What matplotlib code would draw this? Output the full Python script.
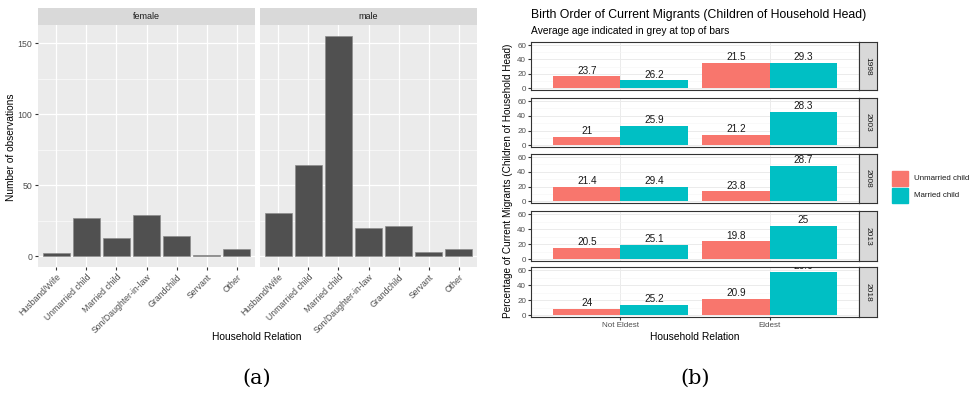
import matplotlib
matplotlib.use("Agg")
import matplotlib.pyplot as plt

plt.rcParams['font.family'] = ['Liberation Sans', 'DejaVu Sans']

W, H = 972, 393

# (a) household relation counts by sex
relations = ['Husband/Wife', 'Unmarried child', 'Married child', 'Son/Daughter-in-law',
             'Grandchild', 'Servant', 'Other']
female_counts = [2, 27, 13, 29, 14, 1, 5]
male_counts = [30, 64, 155, 20, 21, 3, 5]
sexes = ['female', 'male']

# (b) birth order of migrants, percentages and average ages
years = ['1998', '2003', '2008', '2013', '2018']
birth_order = ['Not Eldest', 'Eldest']
unmarried_pct = [[16.6, 35.5], [11.5, 14.6], [19.5, 13.8], [14.8, 23.7], [8.9, 22.2]]
married_pct = [[11.4, 35.5], [26.5, 45.4], [19.5, 48.3], [18.8, 44.3], [14.2, 57.3]]
unmarried_age = [[23.7, 21.5], [21, 21.2], [21.4, 23.8], [20.5, 19.8], [24, 20.9]]
married_age = [[26.2, 29.3], [25.9, 28.3], [29.4, 28.7], [25.1, 25], [25.2, 26.6]]
status = ['Unmarried child', 'Married child']
status_colors = ['#F8766D', '#00BFC4']

fig = plt.figure(figsize=(W / 100, H / 100), dpi=100)
fig.patch.set_facecolor('white')


def box(x0, y0, x1, y1):
    return [x0 / W, 1 - y1 / H, (x1 - x0) / W, (y1 - y0) / H]


def ftext(x, y, s, **kw):
    fig.text(x / W, 1 - y / H, s, **kw)


# ---- panel (a) ----
for i, (sex, counts) in enumerate(zip(sexes, [female_counts, male_counts])):
    x0 = 38 + i * 222
    x1 = x0 + 217
    ax = fig.add_axes(box(x0, 25, x1, 267))
    ax.set_facecolor('#EBEBEB')
    pos = list(range(len(relations)))
    ax.bar(pos, counts, width=0.9, color='#505050', edgecolor='#8c8c8c', linewidth=0.5, zorder=3)
    ax.set_xlim(-0.6, len(relations) - 0.4)
    ax.set_ylim(-7.75, 162.75)
    ax.set_yticks([0, 50, 100, 150])
    ax.set_yticks([25, 75, 125], minor=True)
    ax.set_xticks(pos)
    ax.set_xticklabels(relations, rotation=45, ha='right', rotation_mode='anchor',
                       fontsize=6, color='#4D4D4D')
    ax.grid(which='major', color='white', linewidth=0.9, zorder=0)
    ax.grid(which='minor', axis='y', color='white', linewidth=0.4, zorder=0)
    ax.tick_params(axis='both', which='major', length=2.5, color='#333333',
                   labelsize=6.3, labelcolor='#4D4D4D', pad=1.5)
    ax.tick_params(which='minor', length=0)
    if i > 0:
        ax.tick_params(axis='y', labelleft=False, length=0)
    for s in ax.spines.values():
        s.set_visible(False)
    sax = fig.add_axes(box(x0, 8, x1, 25))
    sax.set_facecolor('#D9D9D9')
    sax.set_xticks([])
    sax.set_yticks([])
    for s in sax.spines.values():
        s.set_visible(False)
    sax.text(0.5, 0.5, sex, ha='center', va='center', fontsize=6.5, color='#1A1A1A',
             transform=sax.transAxes)

ftext(11, 147, 'Number of observations', rotation=90, ha='center', va='center', fontsize=7.3)
ftext(257, 337, 'Household Relation', ha='center', va='center', fontsize=7.4)
ftext(257, 378, '(a)', ha='center', va='center', fontsize=15, family='DejaVu Serif')

# ---- panel (b) ----
rows = [(42, 90), (98, 147), (154, 203), (211, 261), (267, 317)]
bw = 0.45
for r, (y0, y1) in enumerate(rows):
    ax = fig.add_axes(box(531, y0, 859, y1))
    ax.set_facecolor('white')
    xs = [1, 2]
    groups = [(unmarried_pct[r], unmarried_age[r]), (married_pct[r], married_age[r])]
    for k, (pct, age) in enumerate(groups):
        bx = [x + (k - 0.5) * bw for x in xs]
        ax.bar(bx, pct, width=bw, color=status_colors[k], zorder=3)
        for xb, p, a in zip(bx, pct, age):
            ax.text(xb, p + 7.6, '%g' % a, ha='center', va='center', fontsize=7.2,
                    color='#1A1A1A', clip_on=True, zorder=4)
    ax.set_xlim(0.4, 2.6)
    ax.set_ylim(-2.2, 64.2)
    ax.set_yticks([0, 20, 40, 60])
    ax.set_yticks([10, 30, 50], minor=True)
    ax.set_xticks(xs)
    ax.grid(which='major', color='#EBEBEB', linewidth=0.7, zorder=0)
    ax.grid(which='minor', axis='y', color='#F5F5F5', linewidth=0.4, zorder=0)
    ax.tick_params(axis='both', which='major', length=2, color='#333333',
                   labelsize=5.8, labelcolor='#4D4D4D', pad=1.5)
    ax.tick_params(which='minor', length=0)
    if r < len(rows) - 1:
        ax.set_xticklabels([])
        ax.tick_params(axis='x', length=0)
    else:
        ax.set_xticklabels(birth_order)
    for s in ax.spines.values():
        s.set_color('#333333')
        s.set_linewidth(0.8)
    sax = fig.add_axes(box(859, y0, 877, y1))
    sax.set_facecolor('#D9D9D9')
    sax.set_xticks([])
    sax.set_yticks([])
    for s in sax.spines.values():
        s.set_color('#333333')
        s.set_linewidth(0.8)
    sax.text(0.5, 0.5, years[r], ha='center', va='center', rotation=-90, fontsize=6,
             color='#1A1A1A', transform=sax.transAxes)

ftext(531, 15, 'Birth Order of Current Migrants (Children of Household Head)',
      ha='left', va='center', fontsize=8.8)
ftext(531, 31, 'Average age indicated in grey at top of bars', ha='left', va='center', fontsize=7.4)
ftext(508, 181, 'Percentage of Current Migrants (Children of Household Head)',
      rotation=90, ha='center', va='center', fontsize=7.2)
ftext(695, 337, 'Household Relation', ha='center', va='center', fontsize=7.4)
ftext(695, 378, '(b)', ha='center', va='center', fontsize=15, family='DejaVu Serif')

# legend keys
lax = fig.add_axes(box(890, 169, 972, 205))
lax.set_xlim(890, 972)
lax.set_ylim(205, 169)
lax.axis('off')
for k, (lab, c) in enumerate(zip(status, status_colors)):
    top = 171 + k * 16.5
    lax.add_patch(plt.Rectangle((892, top), 16, 15, color=c))
    lax.text(914, top + 7.5, lab, ha='left', va='center', fontsize=5.7, color='#1A1A1A')

fig.savefig('out.png', dpi=100)
